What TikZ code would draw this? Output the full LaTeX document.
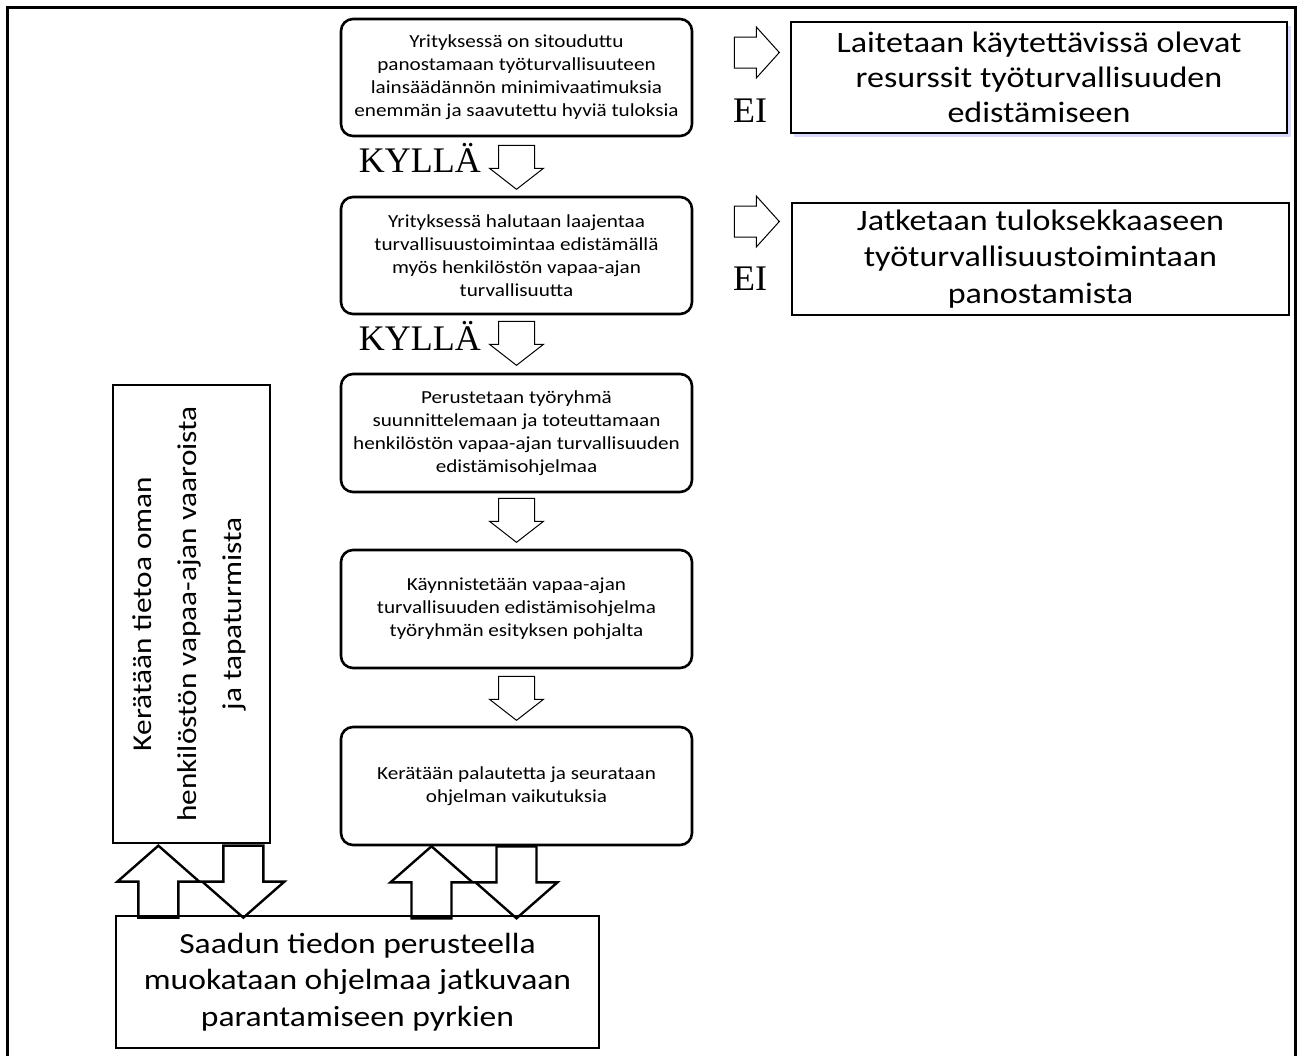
\documentclass[tikz,border=0pt]{standalone}
\usepackage{fontspec}
\setmainfont{Carlito}[FakeStretch=1.15]
\newfontfamily\tnr{Liberation Serif}
\usetikzlibrary{calc}
\tikzset{
  rbox/.style={draw, line width=2.6pt, rounded corners=12pt, align=center, inner sep=0pt,
    minimum width=351pt, minimum height=117pt, font=\fontsize{18.4}{23}\selectfont},
  sbox/.style={draw, line width=1.3pt, align=center, inner sep=0pt},
  lbl/.style={font=\tnr\fontsize{36}{36}\selectfont, inner sep=0pt},
  thinarrow/.style={draw, line width=1pt, line join=miter},
  thickarrow/.style={draw, line width=2.4pt, line join=miter},
  shadowline/.style={draw=blue!15!white, line width=2.5pt}
}
\newcommand\blockdown[2]{% top coordinate, style
  \path[#2] ($(#1)+(-18,0)$) -- ($(#1)+(18,0)$) -- ($(#1)+(18,23)$) -- ($(#1)+(27,23)$)
    -- ($(#1)+(0,44)$) -- ($(#1)+(-27,23)$) -- ($(#1)+(-18,23)$) -- cycle;}
\newcommand\blockright[2]{% left-middle coordinate, style
  \path[#2] ($(#1)+(0,-15.5)$) -- ($(#1)+(22,-15.5)$) -- ($(#1)+(22,-25.5)$) -- ($(#1)+(45,0)$)
    -- ($(#1)+(22,25.5)$) -- ($(#1)+(22,15.5)$) -- ($(#1)+(0,15.5)$) -- cycle;}
\newcommand\bigup[1]{% tip coordinate
  \path[thickarrow] (#1) -- ($(#1)+(41,36)$) -- ($(#1)+(20,36)$) -- ($(#1)+(20,72)$)
    -- ($(#1)+(-20,72)$) -- ($(#1)+(-20,36)$) -- ($(#1)+(-41,36)$) -- cycle;}
\newcommand\bigdown[1]{% top-centre coordinate
  \path[thickarrow] ($(#1)+(-20,0)$) -- ($(#1)+(20,0)$) -- ($(#1)+(20,36)$) -- ($(#1)+(41,36)$)
    -- ($(#1)+(0,72)$) -- ($(#1)+(-41,36)$) -- ($(#1)+(-20,36)$) -- cycle;}
\begin{document}
\begin{tikzpicture}[x=1pt,y=-1pt]
\useasboundingbox (0,0) rectangle (1298,1055);
\fill[white] (0,0) rectangle (1298,1055);
% outer frame
\draw[line width=3pt] (7,1070) -- (7,7) -- (1295,7) -- (1295,1070);

% main column
\node[rbox] (b1) at (516.5,77.5) {Yrityksessä on sitouduttu\\panostamaan työturvallisuuteen\\lainsäädännön minimivaatimuksia\\enemmän ja saavutettu hyviä tuloksia};
\node[rbox] (b2) at (516.5,255.5) {Yrityksessä halutaan laajentaa\\turvallisuustoimintaa edistämällä\\myös henkilöstön vapaa-ajan\\turvallisuutta};
\node[rbox, minimum height=118pt] (b3) at (516.5,433) {Perustetaan työryhmä\\suunnittelemaan ja toteuttamaan\\henkilöstön vapaa-ajan turvallisuuden\\edistämisohjelmaa};
\node[rbox, minimum height=118pt] (b4) at (516.5,609) {Käynnistetään vapaa-ajan\\turvallisuuden edistämisohjelma\\työryhmän esityksen pohjalta};
\node[rbox, minimum height=118pt] (b5) at (516.5,786) {Kerätään palautetta ja seurataan\\ohjelman vaikutuksia};

% right boxes
\draw[shadowline] (794,135.5) -- (1289.5,135.5) -- (1289.5,26);
\node[sbox, fill=white, minimum width=496pt, minimum height=111pt, font=\fontsize{29.6}{35}\selectfont] (r1) at (1039,77.5) {Laitetaan käytettävissä olevat\\resurssit työturvallisuuden\\edistämiseen};
\node[sbox, minimum width=497pt, minimum height=112pt, font=\fontsize{29.6}{36.5}\selectfont] (r2) at (1040.5,259) {Jatketaan tuloksekkaaseen\\työturvallisuustoimintaan\\panostamista};

% left box
\node[sbox, minimum width=157pt, minimum height=458pt] (lb) at (191.5,614) {};
\node[rotate=90, align=center, inner sep=0pt, font=\fontsize{27.2}{45}\selectfont] (lt) at ($(lb.center)+(-2,0)$) {Kerätään tietoa oman\\henkilöstön vapaa-ajan vaaroista\\ja tapaturmista};

% bottom box
\node[sbox, minimum width=483pt, minimum height=132pt, font=\fontsize{29.2}{36.5}\selectfont] (bb) at (357.5,982) {Saadun tiedon perusteella\\muokataan ohjelmaa jatkuvaan\\parantamiseen pyrkien};

% labels
\node[lbl, anchor=base east] (k1) at (481,172) {KYLLÄ};
\node[lbl, anchor=base east] (k2) at (481,350) {KYLLÄ};
\node[lbl, anchor=base west] (e1) at (733,122) {EI};
\node[lbl, anchor=base west] (e2) at (733,290) {EI};

% vertical block arrows between boxes
\coordinate (a1) at ($(b1.south)+(0,8)$);
\coordinate (a2) at ($(b2.south)+(0,6)$);
\coordinate (a3) at ($(b3.south)+(0,5)$);
\coordinate (a4) at ($(b4.south)+(0,7)$);
\blockdown{a1}{thinarrow}
\blockdown{a2}{thinarrow}
\blockdown{a3}{thinarrow}
\blockdown{a4}{thinarrow}

% right block arrows (EI)
\coordinate (h1) at ($(b1.east)+(41,-25)$);
\coordinate (h2) at ($(b2.east)+(41,-34)$);
\blockright{h1}{thinarrow}
\blockright{h2}{thinarrow}

% feedback arrows
\coordinate (u1) at ($(lb.south west)+(46,2)$);
\coordinate (d1) at ($(lb.south west)+(131,2)$);
\coordinate (u2) at ($(b5.south)+(-85,0)$);
\coordinate (d2) at (b5.south);
\bigup{u1}
\bigdown{d1}
\bigup{u2}
\bigdown{d2}
\end{tikzpicture}
\end{document}
